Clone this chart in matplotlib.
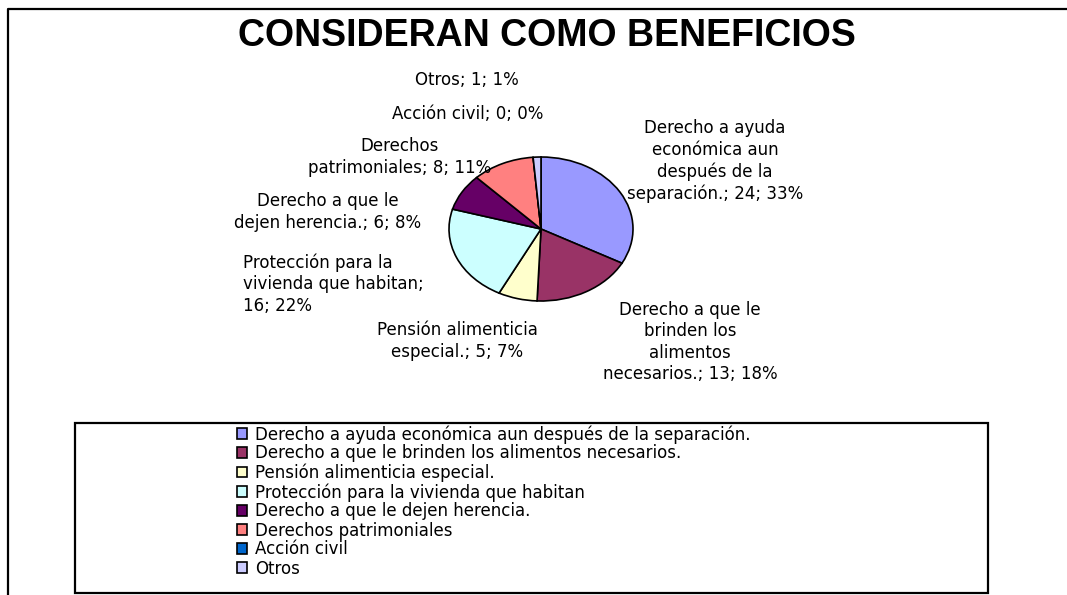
import matplotlib
matplotlib.use("Agg")
import matplotlib.pyplot as plt
from matplotlib.patches import Rectangle
from matplotlib.lines import Line2D

# data
categorias = [
    "Derecho a ayuda económica aun después de la separación.",
    "Derecho a que le brinden los alimentos necesarios.",
    "Pensión alimenticia especial.",
    "Protección para la vivienda que habitan",
    "Derecho a que le dejen herencia.",
    "Derechos patrimoniales",
    "Acción civil",
    "Otros",
]
etiquetas = [
    "Derecho a ayuda\neconómica aun\ndespués de la\nseparación.",
    "Derecho a que le\nbrinden los\nalimentos\nnecesarios.",
    "Pensión alimenticia\nespecial.",
    "Protección para la\nvivienda que habitan;\n",
    "Derecho a que le\ndejen herencia.",
    "Derechos\npatrimoniales",
    "Acción civil",
    "Otros",
]
valores = [24, 13, 5, 16, 6, 8, 0, 1]
colores = ["#9999FF", "#993366", "#FFFFCC", "#CCFFFF",
           "#660066", "#FF8080", "#0066CC", "#CCCCFF"]

W, H = 1067, 595
fig = plt.figure(figsize=(W / 100, H / 100), dpi=100)


def fx(x):
    return x / W


def fy(y):
    return 1 - y / H


# outer frame (only top and left edges fall inside the picture)
fig.add_artist(Line2D([fx(8), fx(8), 1.01], [-0.01, fy(9), fy(9)],
                      transform=fig.transFigure, color="black", linewidth=1.6))

fig.text(fx(547), fy(36), "CONSIDERAN COMO BENEFICIOS", ha="center", va="center",
         fontsize=27, fontweight="bold", family="Liberation Sans")

# pie (slightly flattened ellipse)
cx, cy, rx, ry = 541, 229, 92, 72
ax = fig.add_axes([fx(cx - rx), fy(cy + ry), 2 * rx / W, 2 * ry / H])
wedges, _ = ax.pie(valores, colors=colores, startangle=90, counterclock=False,
                   wedgeprops=dict(edgecolor="black", linewidth=1.2))
ax.set_aspect("auto")
ax.set_xlim(-1, 1)
ax.set_ylim(-1, 1)
ax.axis("off")

total = sum(valores)
# label layout (pixel positions, alignment)
pos = [(715, 161, "center"), (690, 342, "center"), (457, 341, "center"),
       (243, 284, "left"), (328, 212, "center"), (400, 157, "center"),
       (468, 114, "center"), (467, 80, "center")]
for lab, v, (x, y, ha) in zip(etiquetas, valores, pos):
    pct = round(v / total * 100)
    if lab.endswith("\n"):
        txt = f"{lab}{v}; {pct}%"
    else:
        txt = f"{lab}; {v}; {pct}%"
    fig.text(fx(x), fy(y), txt, ha=ha, va="center", fontsize=12,
             multialignment=ha, linespacing=1.24)

# legend box
fig.patches.append(Rectangle((fx(75), fy(593)), (988 - 75) / W, (593 - 423) / H,
                             transform=fig.transFigure, fill=False,
                             edgecolor="black", linewidth=1.6))
fig.legend(wedges, categorias, loc="upper left", bbox_to_anchor=(fx(237), fy(425)),
           frameon=False, fontsize=12, borderpad=0, borderaxespad=0,
           handlelength=0.6, handleheight=0.6, handletextpad=0.5,
           labelspacing=0.06)

fig.savefig("out.png", dpi=100)
